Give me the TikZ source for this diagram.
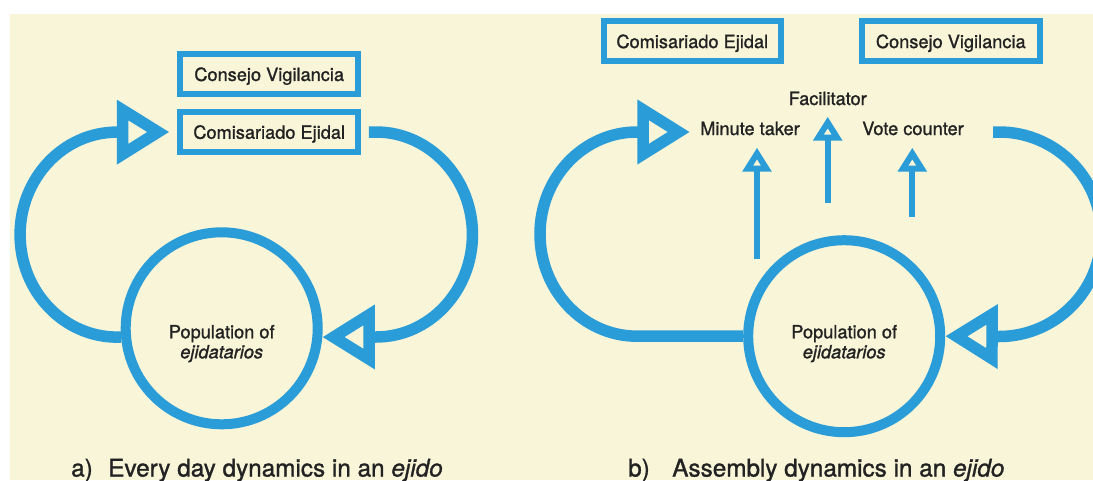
\documentclass[tikz,border=0pt]{standalone}
\usepackage{fontspec}
\setmainfont{TeX Gyre Heros}[FakeBold=1.2]
\usetikzlibrary{arrows.meta}
\definecolor{ejblue}{HTML}{2A9DD8}
\definecolor{ejcream}{HTML}{F8F5D8}
\definecolor{ejtext}{HTML}{222222}

\begin{document}
\begin{tikzpicture}
        [x=1pt, y=-1pt,
        office/.style={draw=ejblue, line width=6pt, minimum width=177.5pt, minimum height=40pt,
            inner sep=0pt, text height=13.5pt, text depth=0pt, text=ejtext, font=\fontsize{18.2}{21}\selectfont},
        people/.style={circle, draw=ejblue, line width=10pt, minimum size=192pt, inner sep=0pt},
        inside/.style={align=center, inner sep=0pt, text=ejtext, font=\fontsize{18.2}{20}\selectfont},
        role/.style={anchor=base, inner sep=0pt, text=ejtext, font=\fontsize{18.2}{21}\selectfont},
        caption/.style={anchor=base west, inner sep=0pt, text=ejtext, font=\fontsize{24.3}{28}\selectfont},
        loopline/.style={ejblue, line width=11.5pt, -{Triangle[open, length=52.6pt, width=61.7pt]}},
        pointer/.style={ejblue, line width=6pt, -{Triangle[open, length=24pt, width=28pt]}}]

        \useasboundingbox (0,0) rectangle (1093,480);
        \fill[white] (0,0) rectangle (1093,480);
        \fill[ejcream] (10,14) rectangle (1093,480);

        % a) every day
        \node[office] (cva) at (269.2,74.2) {Consejo Vigilancia};
        \node[office] (ca) at (269.2,132) {Comisariado Ejidal};
        \node[people] (pa) at (221.7,328.3) {};
        \node[inside] (pat) at (221.7,343.6) {Population of\\\textit{ejidatarios}};

        \draw[loopline, shorten >=8pt] (pa.185) -- ++(-4,0)
            arc[start angle=90, end angle=270, x radius=97, y radius=102.5] -- (ca.west);
        \draw[loopline] ([xshift=8pt]ca.east) -- ++(7,0)
            arc[start angle=270, end angle=450, x radius=96.5, y radius=102.5] -- (pa.355);

        \node[caption] (capa) at (71,476.5) {a)\hspace{15.5pt}Every day dynamics in an \textit{ejido}};

        % b) assembly
        \node[office] (cb) at (692.3,41.3) {Comisariado Ejidal};
        \node[office] (cvb) at (950.8,41.3) {Consejo Vigilancia};
        \node[role] (fac) at (827.7,105) {Facilitator};
        \node[role] (mt) at (750,135) {Minute taker};
        \node[role] (vc) at (913,135) {Vote counter};
        \node[people] (pb) at (844.2,336.2) {};
        \node[inside] (pbt) at (844.2,343.6) {Population of\\\textit{ejidatarios}};

        \coordinate (mtip) at (690,132);
        \coordinate (vstart) at (993,132);
        \draw[loopline] (pb.west) -- (637,336.2)
            arc[start angle=90, end angle=270, x radius=97, y radius=102.1] -- (mtip);
        \draw[loopline] (vstart) -- ++(6,0)
            arc[start angle=270, end angle=450, radius=102.25] -- (pb.east);

        % roles chosen from the floor
        \coordinate (mfoot) at (757,259);
        \coordinate (mhead) at (757,147.7);
        \coordinate (ffoot) at (827.7,202.7);
        \coordinate (fhead) at (827.7,116.7);
        \coordinate (vfoot) at (912.3,216.7);
        \coordinate (vhead) at (912.3,147.7);
        \draw[pointer] (mfoot) -- (mhead);
        \draw[pointer] (ffoot) -- (fhead);
        \draw[pointer] (vfoot) -- (vhead);

        \node[caption] (capb) at (628,476.5) {b)\hspace{22.5pt}Assembly dynamics in an \textit{ejido}};

    \end{tikzpicture}
\end{document}
